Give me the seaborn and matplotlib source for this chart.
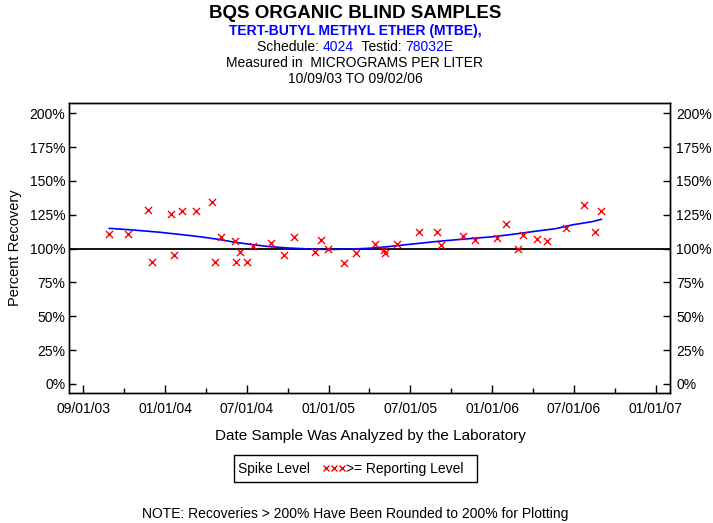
import matplotlib
matplotlib.use('Agg')
import matplotlib.pyplot as plt
import matplotlib.dates as mdates
from matplotlib.lines import Line2D
from matplotlib.patches import Rectangle
import numpy as np
import pandas as pd
import seaborn as sns

# muestras (fecha de análisis, % recuperación)
sample_dates = ['2003-10-26', '2003-12-06', '2004-01-17', '2004-01-26', '2004-03-06',
                '2004-03-13', '2004-03-29', '2004-04-28', '2004-06-01', '2004-06-08',
                '2004-06-21', '2004-07-20', '2004-07-21', '2004-07-31', '2004-08-15',
                '2004-08-28', '2004-10-04', '2004-11-02', '2004-11-22', '2005-01-05',
                '2005-01-19', '2005-02-03', '2005-03-09', '2005-04-03', '2005-05-14',
                '2005-06-02', '2005-06-04', '2005-06-30', '2005-08-16', '2005-09-23',
                '2005-10-02', '2005-11-17', '2005-12-13', '2006-01-28', '2006-02-16',
                '2006-03-14', '2006-03-25', '2006-04-23', '2006-05-15', '2006-06-25',
                '2006-08-02', '2006-08-25', '2006-09-07']
recovery_pct = [110.6, 111.0, 128.3, 90.4, 125.6,
                95.1, 127.6, 127.6, 134.2, 90.4,
                108.4, 105.6, 90.4, 97.3, 90.4,
                101.7, 104.2, 95.1, 108.6, 97.3,
                106.2, 99.5, 89.6, 96.6, 103.7,
                99.0, 96.8, 103.7, 112.1, 112.3,
                102.9, 109.3, 106.2, 107.9, 118.0,
                99.5, 109.9, 107.1, 105.9, 115.0,
                132.0, 112.1, 127.6]

# curva suavizada
smooth_dates = ['2003-10-26', '2003-12-22', '2004-02-11', '2004-04-04', '2004-05-06',
                '2004-06-14', '2004-07-16', '2004-08-21', '2004-09-25', '2004-11-07',
                '2004-12-29', '2005-02-07', '2005-03-26', '2005-05-03', '2005-06-08',
                '2005-07-27', '2005-09-25', '2005-11-14', '2006-01-20', '2006-03-08',
                '2006-04-19', '2006-06-01', '2006-07-10', '2006-08-18', '2006-09-08']
smooth_pct = [115.0, 113.6, 112.1, 110.1, 108.8,
              106.9, 104.9, 103.2, 101.7, 100.5,
              99.7, 99.4, 99.7, 100.3, 101.4,
              103.2, 105.4, 106.9, 108.8, 110.8,
              112.8, 114.7, 117.7, 119.9, 121.7]

x_tick_labels = ['09/01/03', '01/01/04', '07/01/04', '01/01/05',
                 '07/01/05', '01/01/06', '07/01/06', '01/01/07']
y_ticks = [0, 25, 50, 75, 100, 125, 150, 175, 200]

sns.set_style('white')
plt.rcParams['font.family'] = ['Liberation Sans', 'DejaVu Sans']
plt.rcParams['text.color'] = 'black'
plt.rcParams['axes.labelcolor'] = 'black'
plt.rcParams['xtick.color'] = 'black'
plt.rcParams['ytick.color'] = 'black'

W, H = 713, 523
fig = plt.figure(figsize=(W / 100, H / 100), dpi=100)
ax = fig.add_axes([69.3 / W, 1 - 393.3 / H, (670 - 69.3) / W, (393.3 - 103.3) / H])

df = pd.DataFrame({'fecha': pd.to_datetime(sample_dates), 'pct': recovery_pct})
df_s = pd.DataFrame({'fecha': pd.to_datetime(smooth_dates), 'pct': smooth_pct})

ax.axhline(100, color='black', lw=1.3, zorder=1)
sns.lineplot(data=df_s, x='fecha', y='pct', color='blue', lw=1.2, ax=ax, zorder=2)
sns.scatterplot(data=df, x='fecha', y='pct', marker='x', color='red', s=26,
                linewidth=1.0, ax=ax, zorder=3)

# eje x: marcas equiespaciadas como en el original
d0 = mdates.date2num(pd.Timestamp('2003-09-01'))
d1 = mdates.date2num(pd.Timestamp('2007-01-01'))
ticks = np.linspace(d0, d1, len(x_tick_labels))
step = ticks[1] - ticks[0]
ax.set_xticks(ticks)
ax.set_xticklabels(x_tick_labels)
ax.set_xticks(ticks[:-1] + step / 2, minor=True)
ax.set_xlim(d0 - 0.171 * step, d1 + 0.175 * step)
ax.set_ylim(-6.9, 207.4)
ax.set_yticks(y_ticks)
ax.set_yticklabels([f'{v}%' for v in y_ticks])
ax.set_xlabel('')
ax.set_ylabel('')

ax.tick_params(axis='x', which='major', direction='in', length=6, width=1, pad=6,
               labelsize=10, colors='black', bottom=True)
ax.tick_params(axis='x', which='minor', direction='in', length=3.5, width=1, bottom=True)
ax.tick_params(axis='y', direction='in', length=5, width=1, pad=3, labelsize=10, left=True)

ax2 = ax.twinx()
ax2.set_ylim(ax.get_ylim())
ax2.set_yticks(y_ticks)
ax2.set_yticklabels([f'{v}%' for v in y_ticks])
ax2.tick_params(axis='y', direction='in', length=5, width=1, pad=4.5, labelsize=10, right=True)

for a in (ax, ax2):
    for s in a.spines.values():
        s.set_color('black')
        s.set_linewidth(1)

# títulos
cx = 355 / W
fig.text(cx, 1 - 13 / H, 'BQS ORGANIC BLIND SAMPLES', ha='center', va='center',
         fontsize=13.5, fontweight='bold')
fig.text(cx, 1 - 31 / H, 'TERT-BUTYL METHYL ETHER (MTBE),', ha='center', va='center',
         fontsize=10, fontweight='bold', color='blue')

partes = [('Schedule: ', 'black'), ('4024', 'blue'), ('  Testid: ', 'black'), ('78032E', 'blue')]
textos = [fig.text(0, 1 - 47 / H, t, ha='left', va='center', fontsize=10, color=c)
          for t, c in partes]
fig.canvas.draw()
r = fig.canvas.get_renderer()
anchos = [t.get_window_extent(r).width / W for t in textos]
x = cx - sum(anchos) / 2
for t, w in zip(textos, anchos):
    t.set_x(x)
    x += w

fig.text(cx, 1 - 63 / H, 'Measured in  MICROGRAMS PER LITER', ha='center', va='center', fontsize=10)
fig.text(cx, 1 - 79 / H, '10/09/03 TO 09/02/06', ha='center', va='center', fontsize=10)

fig.text(15 / W, 1 - 248 / H, 'Percent Recovery', rotation=90, ha='center', va='center',
         fontsize=10.5)
fig.text(370 / W, 1 - 436 / H, 'Date Sample Was Analyzed by the Laboratory', ha='center',
         va='center', fontsize=11)

# leyenda
fig.add_artist(Rectangle((234 / W, 1 - 482 / H), 243 / W, 27 / H, transform=fig.transFigure,
                         fill=False, edgecolor='black', lw=1))
fig.text(238 / W, 1 - 468.5 / H, 'Spike Level', ha='left', va='center', fontsize=10)
fig.add_artist(Line2D(np.array([326, 334, 342]) / W, [1 - 468 / H] * 3, transform=fig.transFigure,
                      marker='x', color='red', ls='none', ms=4, mew=1))
fig.text(346 / W, 1 - 468.5 / H, '>= Reporting Level', ha='left', va='center', fontsize=10)

fig.text(cx, 1 - 514 / H, 'NOTE: Recoveries > 200% Have Been Rounded to 200% for Plotting',
         ha='center', va='center', fontsize=10)

plt.savefig('out.png', dpi=100)
